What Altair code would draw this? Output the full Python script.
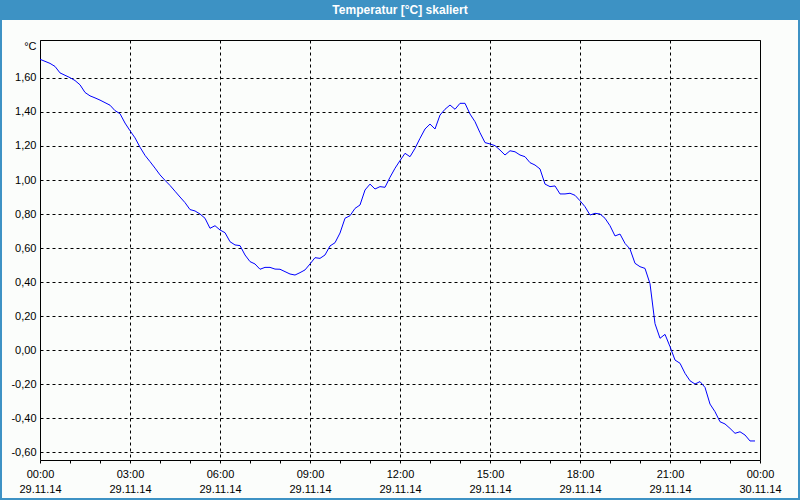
import altair as alt
import pandas as pd

# Temperature readings, every 10 minutes starting 29.11.14 00:00 (UTC-naive)
temperature = [
    1.71, 1.698, 1.686, 1.668, 1.63, 1.616, 1.602, 1.585, 1.56, 1.515,
    1.495, 1.483, 1.47, 1.455, 1.44, 1.408, 1.39, 1.335, 1.29, 1.248,
    1.193, 1.145, 1.108, 1.07, 1.03, 0.998, 0.968, 0.934, 0.9, 0.867,
    0.826, 0.818, 0.80, 0.775, 0.716, 0.731, 0.706, 0.69, 0.637, 0.618,
    0.614, 0.559, 0.52, 0.506, 0.475, 0.486, 0.486, 0.476, 0.475, 0.461,
    0.447, 0.441, 0.455, 0.471, 0.506, 0.543, 0.539, 0.559, 0.612, 0.631,
    0.688, 0.775, 0.79, 0.833, 0.853, 0.941, 0.976, 0.947, 0.961, 0.957,
    1.016, 1.069, 1.114, 1.157, 1.137, 1.186, 1.245, 1.3, 1.329, 1.3,
    1.382, 1.416, 1.441, 1.416, 1.451, 1.451, 1.388, 1.343, 1.278, 1.22,
    1.212, 1.202, 1.176, 1.147, 1.172, 1.166, 1.147, 1.137, 1.102, 1.088,
    1.065, 0.976, 0.961, 0.965, 0.918, 0.918, 0.922, 0.91, 0.878, 0.843,
    0.794, 0.804, 0.80, 0.775, 0.731, 0.671, 0.682, 0.627, 0.594, 0.51,
    0.49, 0.48, 0.39, 0.155, 0.069, 0.092, 0.02, -0.059, -0.078, -0.137,
    -0.181, -0.2, -0.186, -0.22, -0.318, -0.363, -0.422, -0.435, -0.461, -0.49,
    -0.481, -0.5, -0.535, -0.535,
]
START = "2014-11-29T00:00:00Z"
STEP_MINUTES = 10
y_ticks = [-0.6, -0.4, -0.2, 0.0, 0.2, 0.4, 0.6, 0.8, 1.0, 1.2, 1.4, 1.6]
hour_ticks = [alt.DateTime(year=2014, month=11, date=29, hours=h, utc=True) for h in range(24)] + \
             [alt.DateTime(year=2014, month=11, date=30, hours=0, utc=True)]
title_text = "Temperatur [°C] skaliert"
unit_text = "°C"

start = pd.Timestamp(START)
times = [(start + pd.Timedelta(minutes=STEP_MINUTES * i)).strftime("%Y-%m-%dT%H:%M:%SZ")
         for i in range(len(temperature))]
df = pd.DataFrame({"time": times, "temp": temperature})

FONT = "Liberation Sans"

line = alt.Chart(df).mark_line(color="#0000ff", strokeWidth=1).encode(
    x=alt.X(
        "time:T",
        scale=alt.Scale(
            type="utc",
            domain=[alt.DateTime(year=2014, month=11, date=29, hours=0, utc=True),
                    alt.DateTime(year=2014, month=11, date=30, hours=0, utc=True)],
            nice=False,
        ),
        axis=alt.Axis(
            title=None,
            values=hour_ticks,
            labelExpr="utchours(datum.value) % 3 == 0 ? [utcFormat(datum.value, '%H:%M'), utcFormat(datum.value, '%d.%m.%y')] : ''",
            labelOverlap=False,
            labelFlush=False,
            labelLineHeight=15,
            labelPadding=5,
            tickSize=3,
            tickColor="black",
            domain=False,
            grid=True,
            gridColor="black",
            gridDash=[3, 3],
            gridOpacity={"condition": {"test": "utchours(datum.value) % 3 == 0", "value": 1}, "value": 0},
        ),
    ),
    y=alt.Y(
        "temp:Q",
        scale=alt.Scale(domain=[-0.647, 1.8235], nice=False, zero=False),
        axis=alt.Axis(
            title=unit_text,
            titleAngle=0,
            titleAlign="right",
            titleBaseline="middle",
            titleX=-4,
            titleY=6,
            titleFont=FONT,
            titleFontSize=11,
            titleFontWeight="normal",
            titleColor="black",
            values=y_ticks,
            labelExpr="replace((datum.value < -0.0001 ? '-' : '') + format(abs(datum.value), '.2f'), '.', ',')",
            labelPadding=4,
            ticks=False,
            domain=False,
            grid=True,
            gridColor="black",
            gridDash=[3, 3],
        ),
    ),
)

one = alt.Data(values=[{}])

title_bar = alt.Chart(one).mark_rect(color="#3d92c4").encode(
    x=alt.value(-40), x2=alt.value(760), y=alt.value(-40), y2=alt.value(-20)
)
frame = alt.Chart(one).mark_rect(fill=None, stroke="#3d92c4", strokeWidth=2).encode(
    x=alt.value(-39), x2=alt.value(759), y=alt.value(-40), y2=alt.value(459)
)
title = alt.Chart(one).mark_text(
    text=title_text, color="white", font=FONT, fontSize=12, fontWeight="bold",
    align="center", baseline="middle"
).encode(x=alt.value(360), y=alt.value(-30))

chart = alt.layer(line, frame, title_bar, title).properties(
    width=720,
    height=420,
    padding={"left": 40, "top": 40, "right": 40, "bottom": 40},
    autosize="none",
    background="#fbfdfb",
).configure_view(
    stroke="black", strokeWidth=1
).configure_axis(
    labelFont=FONT, labelFontSize=11, labelColor="black"
)

chart.save("out.html", embed_options={"renderer": "svg", "actions": False})
